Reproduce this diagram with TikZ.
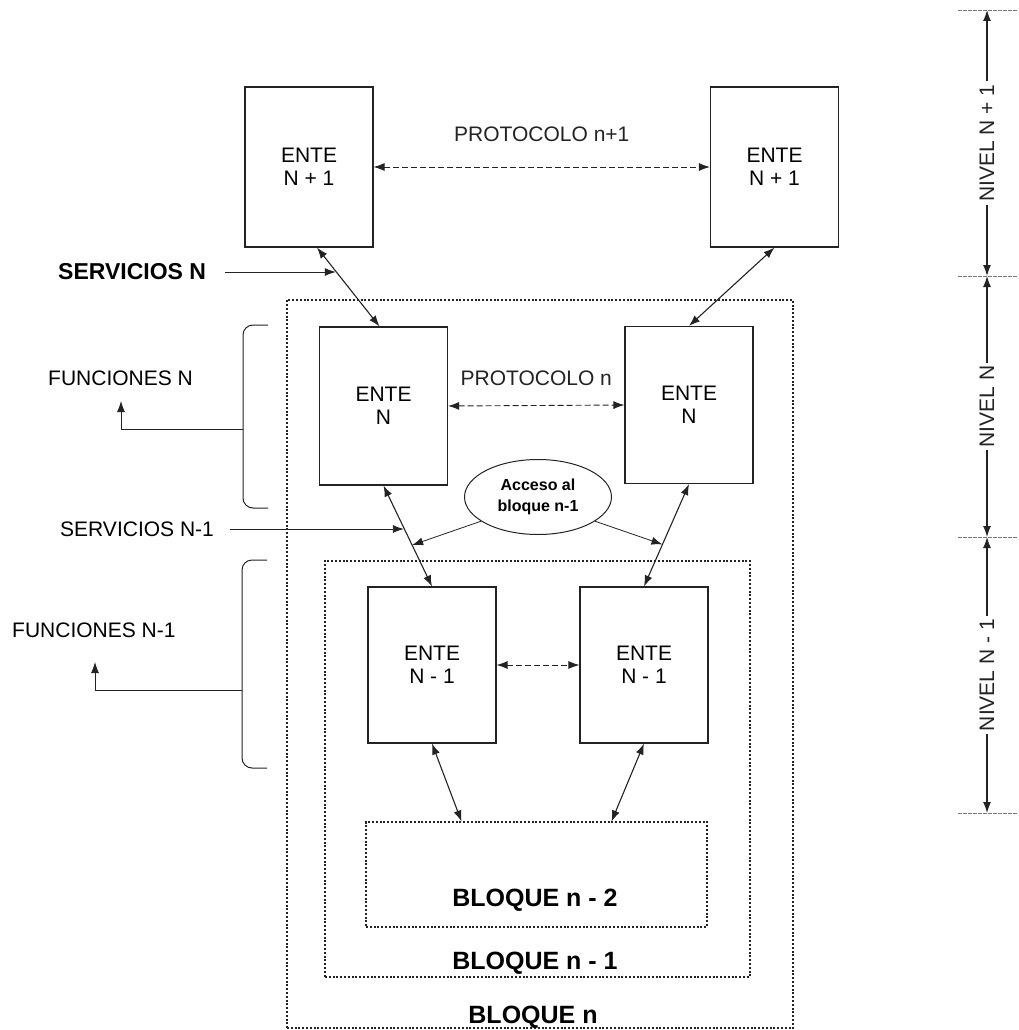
\documentclass[tikz,border=0pt]{standalone}
\usepackage{fontspec}
\setmainfont{Liberation Sans}
\usetikzlibrary{arrows.meta,shapes.geometric,calc}
\definecolor{ink}{RGB}{35,35,35}
\definecolor{faint}{RGB}{120,120,120}

\tikzset{
  ente/.style={draw=ink, line width=1.1pt, minimum width=128pt, align=center,
    inner sep=0pt, font=\fontsize{21}{23}\selectfont},
  bloque/.style={draw=ink, line width=1.1pt, dash pattern=on 2pt off 1.8pt, inner sep=0pt},
  link/.style={{Latex[length=11pt,width=8pt]}-{Latex[length=11pt,width=8pt]}, line width=1.1pt, ink},
  proto/.style={link, dash pattern=on 6pt off 3pt, line width=0.9pt},
  lead/.style={-{Latex[length=11pt,width=8pt]}, line width=0.8pt, ink},
  txt/.style={inner sep=0pt, font=\fontsize{21}{23}\selectfont},
  btxt/.style={inner sep=0pt, font=\bfseries\fontsize{25}{28}\selectfont},
  lvl/.style={fill=white, rotate=90, inner xsep=3pt, inner ysep=0pt, font=\fontsize{21}{23}\selectfont},
}

\begin{document}
\begin{tikzpicture}[x=1pt,y=-1pt]
\useasboundingbox (0,0) rectangle (1018,1030);
% Bloques
\node[bloque, minimum width=506pt, minimum height=728pt] (bn) at (540,664) {};
\node[bloque, minimum width=425pt, minimum height=416pt] (bn1) at (537.5,769) {};
\node[bloque, minimum width=341pt, minimum height=105pt] (bn2) at (536.5,874.5) {};
\node[btxt] (lbn2) at (535,900) {BLOQUE n - 2};
\node[btxt] (lbn1) at (535,963) {BLOQUE n - 1};
\node[btxt] (lbn) at (533,1017) {BLOQUE n};
% Entes
\node[ente, minimum height=160pt] (e1l) at (309,167) {ENTE\\N + 1};
\node[ente, minimum height=160pt] (e1r) at (774.5,167) {ENTE\\N + 1};
\node[ente, minimum height=158pt] (e2l) at (383.5,406) {ENTE\\N};
\node[ente, minimum height=157pt] (e2r) at (689,405) {ENTE\\N};
\node[ente, minimum height=156pt] (e3l) at (432,665) {ENTE\\N - 1};
\node[ente, minimum height=156pt] (e3r) at (644,665) {ENTE\\N - 1};
\node[ellipse, draw=ink, line width=1pt, minimum width=147pt, minimum height=75pt, inner sep=0pt,
  align=center, font=\bfseries\fontsize{16}{21}\selectfont] (acc) at (538,497) {Acceso al\\bloque n-1};
% Protocolos
\draw[proto] (e1l.east) -- node[above=25pt, txt] (pn1) {PROTOCOLO n+1} (e1r.west);
\draw[proto] (e2l.east) -- node[above=19.5pt, txt] (pn) {PROTOCOLO n} (e2r.west);
\draw[proto] (e3l.east) -- (e3r.west);
% Servicios
\coordinate (p1) at ([xshift=8pt]e1l.south);
\coordinate (p2) at ([xshift=-4pt]e2l.north);
\draw[link] (p1) -- (p2);
\draw[link] (e1r.south) -- (e2r.north);
\draw[link] (e2l.south) -- (e3l.north);
\draw[link] (e2r.south) -- (e3r.north);
\draw[link] (e3l.south) -- ([xshift=-75pt]bn2.north);
\draw[link] (e3r.south) -- ([xshift=75pt]bn2.north);
\coordinate (sn) at ($(p1)!0.3!(p2)$);
\coordinate (sn1) at ($(e2l.south)!0.42!(e3l.north)$);
\coordinate (al) at ($(e2l.south)!0.59!(e3l.north)$);
\coordinate (ar) at ($(e2r.south)!0.59!(e3r.north)$);
\draw[lead] (acc.203) -- (al);
\draw[lead] (acc.-23) -- (ar);
\node[txt, anchor=west, font=\bfseries\fontsize{23}{25}\selectfont] (srvn) at (58,272) {SERVICIOS N};
\node[txt, anchor=west] (srvn1) at (60,529) {SERVICIOS N-1};
\draw[lead] ([xshift=19pt]srvn.east) -- (srvn.east -| sn);
\draw[lead] ([xshift=16pt]srvn1.east) -- (srvn1.east -| sn1);
% Funciones
\node[txt, anchor=west] (fnn) at (48,378) {FUNCIONES N};
\node[txt, anchor=west] (fnn1) at (12,630) {FUNCIONES N-1};
\draw[ink, line width=1pt, rounded corners=10pt] (268,325) -- (243,325) -- (243,508) -- (268,508);
\draw[ink, line width=1pt, rounded corners=10pt] (267,560) -- (242,560) -- (242,768) -- (267,768);
\coordinate (br1) at (243,429);
\coordinate (br2) at (242,690);
\draw[lead] (br1) -- (121,429) -- (121,401);
\draw[lead] (br2) -- (95,690) -- (95,662);
% Niveles
\coordinate (t0) at (987,10);
\coordinate (t1) at (987,276);
\coordinate (t2) at (987,537);
\coordinate (t3) at (987,813);
\foreach \c in {t0,t1,t2,t3}
  \draw[faint, line width=0.6pt, dash pattern=on 4pt off 1pt] ($(\c)+(-29,0)$) -- ($(\c)+(31,0)$);
\draw[link] (t0) -- node[lvl] (lv1) {NIVEL N + 1} (t1);
\draw[link] (t1) -- node[lvl] (lv2) {NIVEL N} (t2);
\draw[link] (t2) -- node[lvl] (lv3) {NIVEL N - 1} (t3);
\end{tikzpicture}
\end{document}
